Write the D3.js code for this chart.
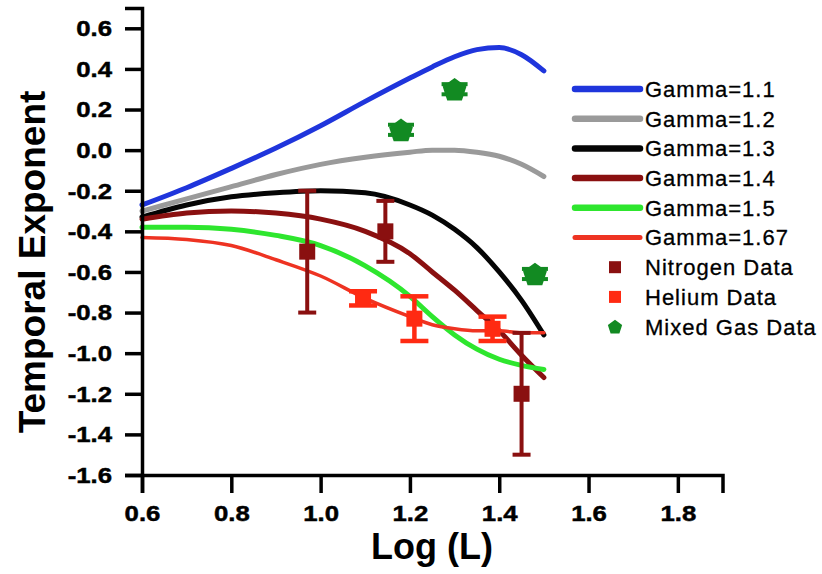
<!DOCTYPE html>
<html>
<head>
<meta charset="utf-8">
<script src="https://cdn.jsdelivr.net/npm/d3@7"></script>
<style>
  body { margin: 0; background: #fff; }
  text { font-family: "Liberation Sans", Arial, sans-serif; }
</style>
</head>
<body>
<div id="chart-area"></div>
<script>
// model curves, sampled on a shared Log(L) grid
const gridX = [0.6, 0.7, 0.8, 0.9, 1.0, 1.1, 1.2, 1.25, 1.3, 1.35, 1.4, 1.45, 1.5]
const gamma11 = [-0.27, -0.185, -0.09, 0.01, 0.12, 0.24, 0.355, 0.41, 0.46, 0.495, 0.505, 0.47, 0.39]
const gamma12 = [-0.30, -0.24, -0.18, -0.12, -0.07, -0.035, -0.01, 0.0, 0.0, -0.01, -0.03, -0.07, -0.13]
const gamma13 = [-0.33, -0.27, -0.23, -0.21, -0.20, -0.21, -0.27, -0.32, -0.39, -0.48, -0.60, -0.74, -0.91]
const gamma14 = [-0.34, -0.31, -0.30, -0.31, -0.34, -0.40, -0.51, -0.60, -0.69, -0.79, -0.89, -1.01, -1.12]
const gamma15 = [-0.38, -0.38, -0.39, -0.42, -0.47, -0.57, -0.72, -0.82, -0.91, -0.98, -1.03, -1.06, -1.08]
const gamma167 = [-0.43, -0.44, -0.47, -0.54, -0.62, -0.73, -0.82, -0.86, -0.88, -0.89, -0.89, -0.90, -0.90]

// measurements
const nitrogenX = [0.97, 1.145, 1.45]
const nitrogenY = [-0.50, -0.40, -1.20]
const nitrogenErr = [0.30, 0.15, 0.30]
const heliumX = [1.095, 1.21, 1.385]
const heliumY = [-0.73, -0.83, -0.88]
const heliumErr = [0.035, 0.11, 0.06]
const mixedX = [1.18, 1.30, 1.48]
const mixedY = [0.10, 0.30, -0.61]
const mixedErr = [0.025, 0.025, 0.025]

const xTicks = [0.6, 0.8, 1.0, 1.2, 1.4, 1.6, 1.8]
const yTicks = [0.6, 0.4, 0.2, 0.0, -0.2, -0.4, -0.6, -0.8, -1.0, -1.2, -1.4, -1.6]

const curves = [
  { name: "Gamma=1.1", values: gamma11, color: "#1f35dc", width: 5 },
  { name: "Gamma=1.2", values: gamma12, color: "#9a9a9a", width: 5 },
  { name: "Gamma=1.3", values: gamma13, color: "#050505", width: 5 },
  { name: "Gamma=1.4", values: gamma14, color: "#8a1010", width: 5 },
  { name: "Gamma=1.5", values: gamma15, color: "#2ee62e", width: 5 },
  { name: "Gamma=1.67", values: gamma167, color: "#ee3322", width: 3.5 }
]

const WIDTH = 822
const HEIGHT = 574

const svg = d3.select("#chart-area").append("svg")
  .attr("width", WIDTH)
  .attr("height", HEIGHT)

const x = d3.scaleLinear().domain([0.6, 1.9]).range([142, 722.5])
const y = d3.scaleLinear().domain([-1.6, 0.7]).range([475, 8])

// curves
const line = d3.line()
  .x(d => x(d[0]))
  .y(d => y(d[1]))
  .curve(d3.curveMonotoneX)

curves.forEach(c => {
  svg.append("path")
    .datum(gridX.map((v, i) => [v, c.values[i]]))
    .attr("d", line)
    .attr("fill", "none")
    .attr("stroke", c.color)
    .attr("stroke-width", c.width)
    .attr("stroke-linecap", "round")
    .attr("stroke-linejoin", "round")
})

// error bars
function errorBars(xs, ys, errs, color, capW, sw) {
  const g = svg.append("g").attr("stroke", color).attr("stroke-width", sw)
  xs.forEach((v, i) => {
    const cx = x(v)
    const top = y(ys[i] + errs[i])
    const bot = y(ys[i] - errs[i])
    g.append("line").attr("x1", cx).attr("x2", cx).attr("y1", top).attr("y2", bot)
    g.append("line").attr("x1", cx - capW / 2).attr("x2", cx + capW / 2).attr("y1", top).attr("y2", top)
    g.append("line").attr("x1", cx - capW / 2).attr("x2", cx + capW / 2).attr("y1", bot).attr("y2", bot)
  })
}

function pentagon(r) {
  const pts = d3.range(5).map(k => {
    const a = -Math.PI / 2 + k * 2 * Math.PI / 5
    return [r * Math.cos(a), r * Math.sin(a) + r * 0.1]
  })
  return "M" + pts.map(p => p.join(",")).join("L") + "Z"
}

errorBars(nitrogenX, nitrogenY, nitrogenErr, "#8a1010", 18, 4)
errorBars(heliumX, heliumY, heliumErr, "#ff2a12", 28, 4.5)
errorBars(mixedX, mixedY, mixedErr, "#128a22", 26, 4)

svg.append("g").selectAll("rect")
  .data(nitrogenX)
  .enter().append("rect")
    .attr("x", d => x(d) - 8)
    .attr("y", (d, i) => y(nitrogenY[i]) - 8)
    .attr("width", 16)
    .attr("height", 16)
    .attr("fill", "#8a1010")

svg.append("g").selectAll("rect")
  .data(heliumX)
  .enter().append("rect")
    .attr("x", d => x(d) - 8)
    .attr("y", (d, i) => y(heliumY[i]) - 8)
    .attr("width", 16)
    .attr("height", 16)
    .attr("fill", "#ff2a12")

svg.append("g").selectAll("path")
  .data(mixedX)
  .enter().append("path")
    .attr("d", pentagon(12.5))
    .attr("transform", (d, i) => `translate(${x(d)}, ${y(mixedY[i])})`)
    .attr("fill", "#128a22")

// axes
const fmt = d => d.toFixed(1)

const xAxisGroup = svg.append("g")
  .attr("transform", `translate(0, ${y(-1.6)})`)
xAxisGroup.call(d3.axisBottom(x).tickValues(d3.range(0.6, 1.95, 0.1)).tickSize(8).tickFormat(""))
xAxisGroup.call(d3.axisBottom(x).tickValues(xTicks).tickSize(18).tickPadding(12).tickFormat(fmt))

const yAxisGroup = svg.append("g")
  .attr("transform", `translate(${x(0.6)}, 0)`)
yAxisGroup.call(d3.axisLeft(y).tickValues(d3.range(-1.6, 0.75, 0.1)).tickSize(8).tickFormat(""))
yAxisGroup.call(d3.axisLeft(y).tickValues(yTicks).tickSize(17).tickPadding(13).tickFormat(fmt))

svg.selectAll(".domain").attr("stroke", "#000").attr("stroke-width", 3.5)
svg.selectAll(".tick line").attr("stroke", "#000").attr("stroke-width", 3.5)
svg.selectAll(".tick text")
  .attr("fill", "#000")
  .attr("stroke", "#000")
  .attr("stroke-width", 0.5)
  .attr("font-size", "23px")
  .attr("font-weight", "bold")
  .attr("font-family", "Liberation Sans, Arial, sans-serif")
xAxisGroup.selectAll(".tick text").attr("dy", "0.71em").attr("transform", "scale(1.12,1)")
yAxisGroup.selectAll(".tick text").attr("x", -30 / 1.12).attr("transform", "scale(1.12,1)")

// axis titles
svg.append("text")
  .attr("x", 432)
  .attr("y", 559)
  .attr("text-anchor", "middle")
  .attr("font-size", "36px")
  .attr("font-weight", "bold")
  .text("Log (L)")

svg.append("text")
  .attr("transform", "translate(45, 262) rotate(-90)")
  .attr("text-anchor", "middle")
  .attr("font-size", "37px")
  .attr("font-weight", "bold")
  .text("Temporal Exponent")

// legend
const legend = svg.append("g")
const rowY = i => 89 + i * 29.7

curves.forEach((c, i) => {
  legend.append("line")
    .attr("x1", 575).attr("x2", 640)
    .attr("y1", rowY(i)).attr("y2", rowY(i))
    .attr("stroke", c.color)
    .attr("stroke-width", c.width + 1.5)
    .attr("stroke-linecap", "round")
})

const markerRows = [
  { name: "Nitrogen Data", color: "#8a1010", shape: "square" },
  { name: "Helium Data", color: "#ff2a12", shape: "square" },
  { name: "Mixed Gas Data", color: "#128a22", shape: "pentagon" }
]

markerRows.forEach((m, j) => {
  const cy = rowY(curves.length + j)
  if (m.shape === "square") {
    legend.append("rect")
      .attr("x", 609).attr("y", cy - 6)
      .attr("width", 12).attr("height", 12)
      .attr("fill", m.color)
  } else {
    legend.append("path")
      .attr("d", pentagon(7.5))
      .attr("transform", `translate(615, ${cy})`)
      .attr("fill", m.color)
  }
})

legend.selectAll("text.lbl")
  .data(curves.map(c => c.name).concat(markerRows.map(m => m.name)))
  .enter().append("text")
    .attr("class", "lbl")
    .attr("x", 645)
    .attr("y", (d, i) => rowY(i))
    .attr("dy", "0.36em")
    .attr("font-size", "22px")
    .attr("letter-spacing", "1px")
    .attr("fill", "#000")
    .attr("stroke", "#000")
    .attr("stroke-width", 0.3)
    .text(d => d)
</script>
</body>
</html>
